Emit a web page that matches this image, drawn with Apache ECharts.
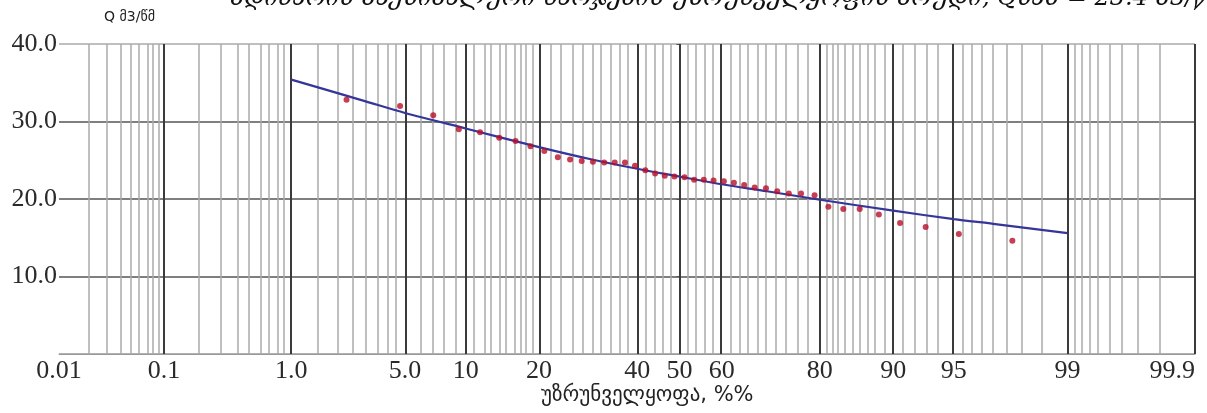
<!DOCTYPE html>
<html>
<head>
<meta charset="utf-8">
<script src="https://cdn.jsdelivr.net/npm/echarts@6/dist/echarts.min.js"></script>
<style>
html,body{margin:0;padding:0;background:#fff;}
#chart{width:1207px;height:413px;}
</style>
</head>
<body>
<div id="chart"></div>
<script>
// ---- Data ----
const tickProbs = [0.01, 0.1, 1, 5, 10, 20, 40, 50, 60, 80, 90, 95, 99, 99.9];
const tickLabels = ['0.01', '0.1', '1.0', '5.0', '10', '20', '40', '50', '60', '80', '90', '95', '99', '99.9'];
const majorProbs = [0.1, 1, 5, 10, 20, 40, 50, 60, 80, 90, 95, 99, 99.9];
const minorProbs = [0.02, 0.03, 0.04, 0.05, 0.06, 0.07, 0.08, 0.09,
  0.2, 0.3, 0.4, 0.5, 0.6, 0.7, 0.8, 0.9,
  1.5, 2, 2.5, 3, 3.5, 4, 4.5,
  6, 7, 8, 9,
  11, 12, 13, 14, 15, 16, 17, 18, 19,
  22, 24, 26, 28, 30, 32, 34, 36, 38,
  42, 44, 46, 48, 52, 54, 56, 58,
  62, 64, 66, 68, 70, 72, 74, 76, 78,
  81, 82, 83, 84, 85, 86, 87, 88, 89,
  91, 92, 93, 94,
  95.5, 96, 96.5, 97, 97.5, 98, 98.5,
  99.1, 99.2, 99.3, 99.4, 99.5, 99.6, 99.7, 99.8];
const yTicks = [0, 10, 20, 30, 40];

// empirical exceedance probabilities (%) and discharges (m3/s)
const empProb = [2.3, 4.7, 7.0, 9.3, 11.6, 14.0, 16.3, 18.6, 20.9, 23.3, 25.6, 27.9, 30.2, 32.6,
  34.9, 37.2, 39.5, 41.9, 44.2, 46.5, 48.8, 51.2, 53.5, 55.8, 58.1, 60.5, 62.8, 65.1,
  67.4, 69.8, 72.1, 74.4, 76.7, 79.1, 81.4, 83.7, 86.0, 88.4, 90.7, 93.0, 95.3, 97.7];
const empQ = [32.8, 32.0, 30.8, 29.0, 28.6, 27.9, 27.5, 26.8, 26.2, 25.4, 25.1, 24.9, 24.8, 24.7,
  24.7, 24.7, 24.3, 23.7, 23.3, 23.0, 22.9, 22.8, 22.5, 22.5, 22.4, 22.3, 22.1, 21.8,
  21.5, 21.4, 21.0, 20.7, 20.7, 20.5, 19.0, 18.7, 18.7, 18.0, 16.9, 16.4, 15.5, 14.6];

// fitted supply curve
const curveProb = [1, 2, 3, 5, 10, 20, 30, 40, 50, 60, 70, 80, 90, 95, 97, 99];
const curveQ = [35.4, 33.7, 32.6, 31.1, 29.1, 26.7, 25.1, 23.9, 22.9, 21.9, 21.0, 19.9, 18.5, 17.4, 16.8, 15.6];

const titleText = 'მდინარის მაქსიმალური ხარჯების უზრუნველყოფის მრუდი, Qსაშ = 23.4 მ3/წმ, Cv = 0.18, Cs = 4Cv';
const xName = 'უზრუნველყოფა, %%';
const yName = 'Q მ3/წმ';

// ---- probability (normal) scale transform ----
function normInv(p) {
  const a = [-3.969683028665376e+01, 2.209460984245205e+02, -2.759285104469687e+02, 1.383577518672690e+02, -3.066479806614716e+01, 2.506628277459239e+00];
  const b = [-5.447609879822406e+01, 1.615858368580409e+02, -1.556989798598866e+02, 6.680131188771972e+01, -1.328068155288572e+01];
  const c = [-7.784894002430293e-03, -3.223964580411365e-01, -2.400758277161838e+00, -2.549732539343734e+00, 4.374664141464968e+00, 2.938163982698783e+00];
  const d = [7.784695709041462e-03, 3.224671290700398e-01, 2.445134137142996e+00, 3.754408661907416e+00];
  const pl = 0.02425, ph = 1 - pl;
  let q, r;
  if (p < pl) {
    q = Math.sqrt(-2 * Math.log(p));
    return (((((c[0]*q+c[1])*q+c[2])*q+c[3])*q+c[4])*q+c[5]) / ((((d[0]*q+d[1])*q+d[2])*q+d[3])*q+1);
  } else if (p <= ph) {
    q = p - 0.5; r = q * q;
    return (((((a[0]*r+a[1])*r+a[2])*r+a[3])*r+a[4])*r+a[5])*q / (((((b[0]*r+b[1])*r+b[2])*r+b[3])*r+b[4])*r+1);
  } else {
    q = Math.sqrt(-2 * Math.log(1 - p));
    return -(((((c[0]*q+c[1])*q+c[2])*q+c[3])*q+c[4])*q+c[5]) / ((((d[0]*q+d[1])*q+d[2])*q+d[3])*q+1);
  }
}
const zOf = pct => normInv(pct / 100);

const tickZ = tickProbs.map(zOf);
function labelFor(v) {
  for (let i = 0; i < tickZ.length; i++) if (Math.abs(tickZ[i] - v) < 1e-6) return tickLabels[i];
  return '';
}

const chart = echarts.init(document.getElementById('chart'), null, {renderer: 'canvas'});
const serif = '"Liberation Serif", "DejaVu Serif", serif';
const geo = '"DejaVu Sans", "Noto Sans", sans-serif';

chart.setOption({
  animation: false,
  backgroundColor: '#fff',
  grid: {left: 59, right: 12, top: 44, bottom: 59, containLabel: false},
  xAxis: {
    type: 'value',
    min: zOf(tickProbs[0]),
    max: zOf(tickProbs[tickProbs.length - 1]),
    axisLine: {show: true, onZero: false, lineStyle: {color: '#999', width: 1}},
    axisTick: {show: false},
    splitLine: {show: false},
    axisLabel: {
      customValues: tickZ,
      formatter: v => labelFor(v),
      fontFamily: serif, fontSize: 26, color: '#2a2a2a', margin: 4,
      alignMaxLabel: 'right'
    }
  },
  yAxis: {
    type: 'value', min: 0, max: 40, interval: 10,
    axisLine: {show: true, lineStyle: {color: '#999', width: 1}},
    axisTick: {show: true, length: 3, lineStyle: {color: '#555'}},
    axisLabel: {
      showMinLabel: false,
      formatter: v => v.toFixed(1),
      fontFamily: serif, fontSize: 26, color: '#2a2a2a', margin: 2
    },
    splitLine: {show: true, lineStyle: {color: ['#999', '#555', '#555', '#555', '#aaa'], width: 1.5}}
  },
  graphic: [
    {type: 'text', left: 230, top: -13, silent: true,
      style: {text: titleText, fontFamily: '"DejaVu Serif", serif', fontStyle: 'italic', fontSize: 24, fill: '#111'}},
    {type: 'text', left: 104, top: 10, silent: true,
      style: {text: yName, fontFamily: geo, fontSize: 14, fill: '#222'}},
    {type: 'text', left: 541, top: 385, silent: true,
      style: {text: xName, fontFamily: geo, fontSize: 21, fill: '#222'}}
  ],
  series: [
    {
      type: 'line', data: [], silent: true, z: 1,
      markLine: {
        silent: true, symbol: ['none', 'none'], label: {show: false}, animation: false,
        lineStyle: {color: '#aaa', width: 1.5, type: 'solid'},
        emphasis: {disabled: true},
        data: minorProbs.map(p => ({xAxis: zOf(p)}))
      }
    },
    {
      type: 'line', data: [], silent: true, z: 2,
      markLine: {
        silent: true, symbol: ['none', 'none'], label: {show: false}, animation: false,
        lineStyle: {color: '#3a3a3a', width: 2, type: 'solid'},
        emphasis: {disabled: true},
        data: majorProbs.map(p => ({xAxis: zOf(p)}))
      }
    },
    {
      name: 'curve', type: 'line', z: 5, smooth: 0.3, showSymbol: false,
      lineStyle: {color: '#35359a', width: 2.2},
      data: curveProb.map((p, i) => [zOf(p), curveQ[i]])
    },
    {
      name: 'observed', type: 'scatter', z: 6, symbolSize: 6,
      itemStyle: {color: '#b80f28'},
      data: empProb.map((p, i) => [zOf(p), empQ[i]])
    }
  ]
});
</script>
</body>
</html>
